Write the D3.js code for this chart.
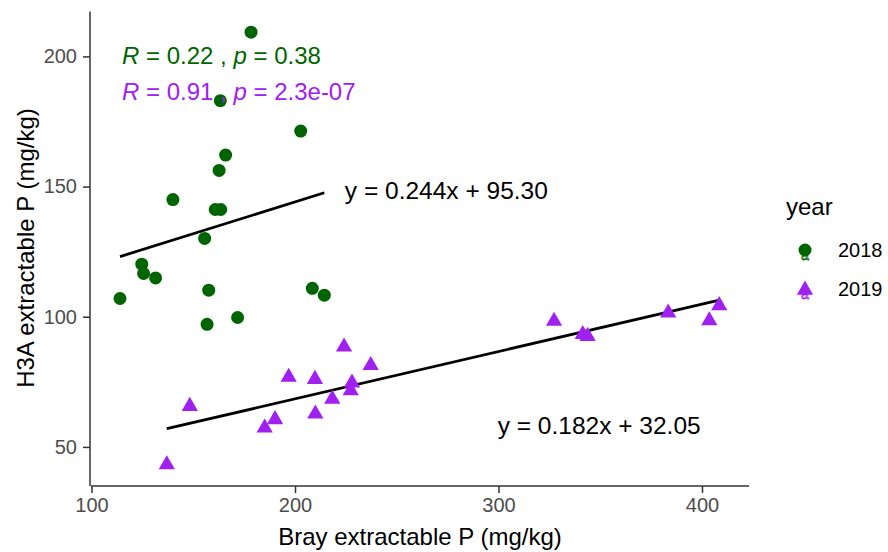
<!DOCTYPE html>
<html><head><meta charset="utf-8">
<script src="https://cdn.jsdelivr.net/npm/d3@7"></script>
<style>body{margin:0;background:#fff}svg{display:block}text{font-family:"Liberation Sans",Arial,sans-serif}</style>
</head><body>
<svg id="chart" width="888" height="552"></svg>
<script>
const years = ["2018", "2019"];
const colors = ["#006400", "#A020F0"];
const bray2018 = [178.4,163.3,202.8,165.9,162.7,140.0,160.8,163.5,155.6,124.7,125.6,131.5,114.0,157.6,156.8,171.8,208.5,214.4];
const h3a2018  = [209.3,183.0,171.3,162.1,156.2,145.0,141.2,141.2,130.1,120.2,116.6,114.9,107.0,110.2,97.1,99.7,110.9,108.3];
const bray2019 = [137.0,148.3,185.1,190.2,196.9,209.8,210.0,218.3,224.1,228.0,227.4,237.2,327.3,341.4,343.8,383.4,403.6,408.5];
const h3a2019  = [43.6,66.0,57.7,60.9,77.2,76.4,63.1,68.8,88.8,75.0,72.0,81.7,98.7,93.6,92.9,101.9,98.9,104.7];
const slopes = [0.244, 0.182];
const intercepts = [95.30, 32.05];
const corLabels = [["0.22","0.38"],["0.91","2.3e-07"]];
const eqLabels = ["y = 0.244x + 95.30", "y = 0.182x + 32.05"];
const xTicks = [100, 200, 300, 400];
const yTicks = [50, 100, 150, 200];

const svg = d3.select("#chart");
const x = d3.scaleLinear().domain([99.75, 423.1]).range([91, 749]);
const y = d3.scaleLinear().domain([35.75, 217.25]).range([484, 11.5]);
const axisColor = "#333";

// axes
const gx = svg.append("g").attr("transform", "translate(0,486)")
  .call(d3.axisBottom(x).tickValues(xTicks).tickSize(7).tickPadding(5).tickSizeOuter(0));
gx.select(".domain").attr("stroke", axisColor).attr("stroke-width", 1.5).attr("d", "M91,0H749");
gx.selectAll(".tick line").attr("stroke", axisColor).attr("stroke-width", 1.5);
gx.selectAll(".tick text").attr("fill", "#4D4D4D").style("font-size", "20px");

const gy = svg.append("g").attr("transform", "translate(90,0)")
  .call(d3.axisLeft(y).tickValues(yTicks).tickSize(7).tickPadding(6).tickSizeOuter(0));
gy.select(".domain").attr("stroke", axisColor).attr("stroke-width", 1.5).attr("d", "M0,11.5V486");
gy.selectAll(".tick line").attr("stroke", axisColor).attr("stroke-width", 1.5);
gy.selectAll(".tick text").attr("fill", "#4D4D4D").style("font-size", "20px");

// axis titles
svg.append("text").attr("x", (91+749)/2).attr("y", 545).attr("text-anchor", "middle")
  .style("font-size", "24px").attr("fill", "#000").text("Bray extractable P (mg/kg)");
svg.append("text").attr("transform", "translate(34,248) rotate(-90)").attr("text-anchor", "middle")
  .style("font-size", "24px").attr("fill", "#000").text("H3A extractable P (mg/kg)");

// regression lines
const series = [
  {bray: bray2018, h3a: h3a2018},
  {bray: bray2019, h3a: h3a2019}
];
series.forEach((s, i) => {
  const [lo, hi] = d3.extent(s.bray);
  svg.append("line")
    .attr("x1", x(lo)).attr("y1", y(slopes[i]*lo + intercepts[i]))
    .attr("x2", x(hi)).attr("y2", y(slopes[i]*hi + intercepts[i]))
    .attr("stroke", "#000").attr("stroke-width", 2.8);
});

// points
const tri = d3.symbol().type(d3.symbolTriangle).size(115);
svg.append("g").selectAll("circle").data(d3.zip(bray2018, h3a2018)).join("circle")
  .attr("cx", d => x(d[0])).attr("cy", d => y(d[1])).attr("r", 6.5).attr("fill", colors[0]);
svg.append("g").selectAll("path").data(d3.zip(bray2019, h3a2019)).join("path")
  .attr("d", tri).attr("transform", d => `translate(${x(d[0])},${y(d[1])+1})`).attr("fill", colors[1]);

// correlation labels
const corY = [200.4, 186.3];
corLabels.forEach((c, i) => {
  const t = svg.append("text").attr("x", x(115)).attr("y", y(corY[i])).attr("dy", "0.35em")
    .style("font-size", "24px").attr("fill", colors[i]);
  t.append("tspan").style("font-style", "italic").text("R");
  t.append("tspan").text(" = " + c[0] + " , ");
  t.append("tspan").style("font-style", "italic").text("p");
  t.append("tspan").text(" = " + c[1]);
});

// equation labels
const eqX = [224.5, 299.6], eqY = [148.7, 58.4];
eqLabels.forEach((e, i) => {
  svg.append("text").attr("x", x(eqX[i])).attr("y", y(eqY[i])).attr("dy", "0.35em")
    .style("font-size", "24.5px").attr("fill", "#000").text(e);
});

// legend
svg.append("text").attr("x", 786).attr("y", 215).style("font-size", "24px").attr("fill", "#000").text("year");
years.forEach((yr, i) => {
  const cy = 250 + i*39;
  const g = svg.append("g").attr("transform", `translate(805,${cy})`);
  if (i === 0) g.append("circle").attr("r", 6.5).attr("fill", colors[0]);
  else g.append("path").attr("d", tri).attr("transform", "translate(0,1)").attr("fill", colors[1]);
  g.append("text").attr("y", 10).attr("text-anchor", "middle").style("font-size", "14px")
    .attr("fill", "none").attr("stroke", colors[i]).attr("stroke-width", 0.8).text("a");
  svg.append("text").attr("x", 838).attr("y", cy).attr("dy", "0.35em").style("font-size", "20px")
    .attr("fill", "#000").text(yr);
});
</script>
</body></html>
